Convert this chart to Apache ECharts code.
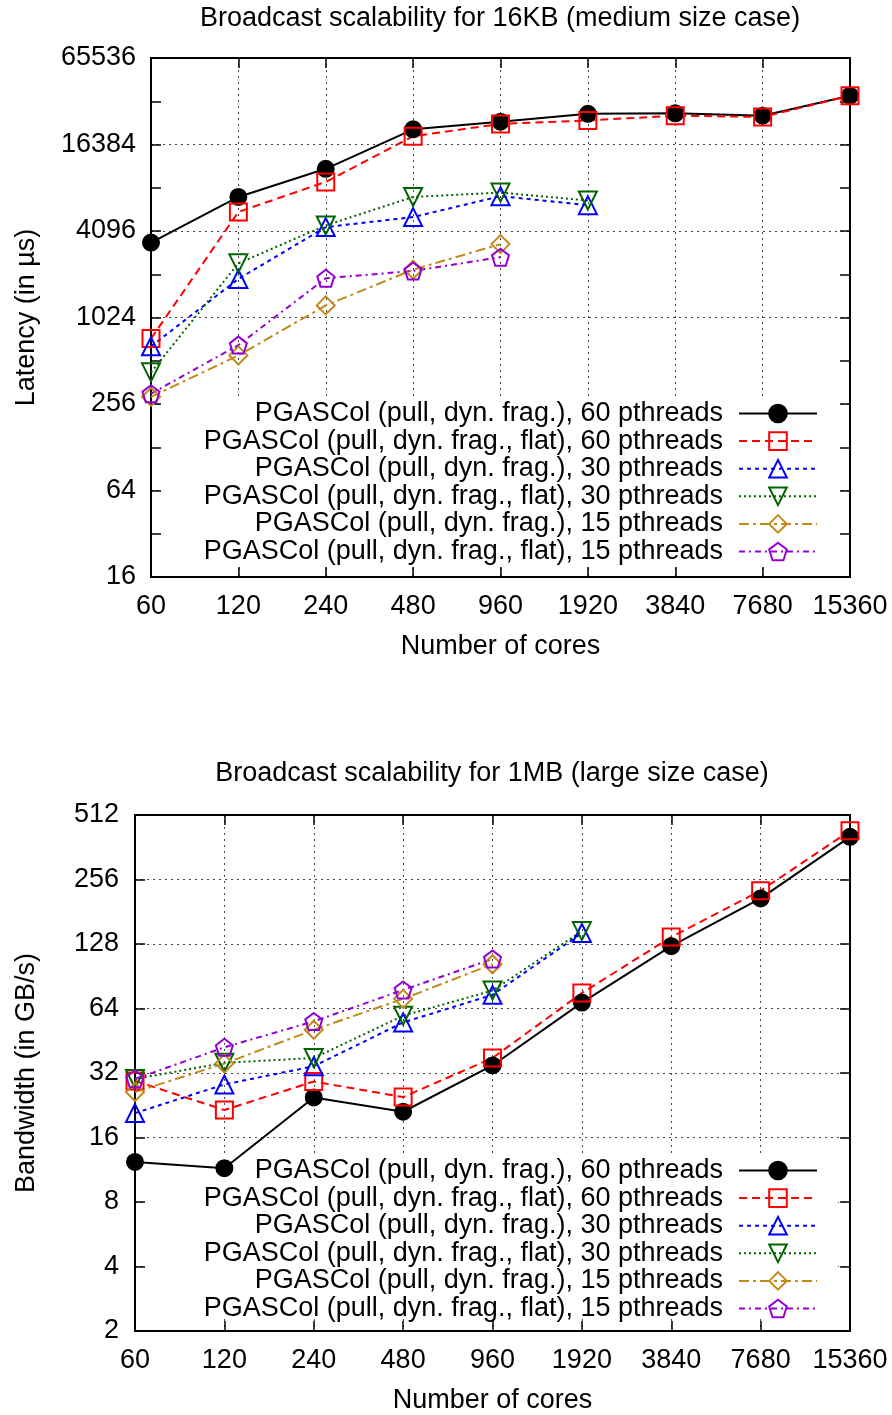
<!DOCTYPE html>
<html>
<head>
<meta charset="utf-8">
<title>Broadcast scalability</title>
<script src="https://cdn.jsdelivr.net/npm/echarts@6/dist/echarts.min.js"></script>
<style>
  html, body { margin: 0; padding: 0; background: #ffffff; }
  #chart { width: 892px; height: 1415px; }
</style>
</head>
<body>
<div id="chart"></div>
<script>
// Number of cores on the x axis (log2 spaced, one category per doubling)
const cores = ['60', '120', '240', '480', '960', '1920', '3840', '7680', '15360'];

const seriesNames = [
  'PGASCol (pull, dyn. frag.), 60 pthreads',
  'PGASCol (pull, dyn. frag., flat), 60 pthreads',
  'PGASCol (pull, dyn. frag.), 30 pthreads',
  'PGASCol (pull, dyn. frag., flat), 30 pthreads',
  'PGASCol (pull, dyn. frag.), 15 pthreads',
  'PGASCol (pull, dyn. frag., flat), 15 pthreads'
];

// 16KB broadcast latency (µs)
const lat60 = [3400, 7070, 11100, 20900, 23600, 26800, 27000, 26000, 35800];
const lat60Flat = [730, 5560, 9000, 18700, 22800, 24100, 26000, 25500, 35800];
const lat30 = [645, 1900, 4360, 5120, 7160, 6200];
const lat30Flat = [425, 2440, 4480, 7070, 7580, 6680];
const lat15 = [287, 558, 1243, 2205, 3320];
const lat15Flat = [302, 658, 1920, 2160, 2690];

// 1MB broadcast bandwidth (GB/s)
const bw60 = [12.3, 11.5, 24.6, 21.1, 34.7, 68.2, 125, 209, 405];
const bw60Flat = [29.4, 21.5, 29.2, 24.7, 37.6, 75.6, 138, 227, 432];
const bw30 = [20.8, 28.3, 34.4, 55.1, 74.1, 144];
const bw30Flat = [30.0, 35.7, 37.6, 59.2, 77.6, 147];
const bw15 = [26.1, 35.4, 50.9, 71.0, 103];
const bw15Flat = [30.0, 42.2, 55.7, 78.1, 109];

// Axis ranges and labels
const latencyTicks = [16, 64, 256, 1024, 4096, 16384, 65536];
const bandwidthTicks = [2, 4, 8, 16, 32, 64, 128, 256, 512];

const latencySets = [lat60, lat60Flat, lat30, lat30Flat, lat15, lat15Flat];
const bandwidthSets = [bw60, bw60Flat, bw30, bw30Flat, bw15, bw15Flat];

// Marker shapes
const DOWN_TRIANGLE = 'path://M0,0 L2,0 L1,1.732 Z';
const PENTAGON = 'path://M1,0 L1.951,0.691 L1.588,1.809 L0.412,1.809 L0.049,0.691 Z';

// Line / marker look of each series (same in both panels)
const looks = [
  { color: '#000000', dash: 'solid', symbol: 'circle', size: 16, filled: true },
  { color: '#ff0000', dash: [8, 5], symbol: 'rect', size: 17, filled: false },
  { color: '#0000ff', dash: [4, 4], symbol: 'triangle', size: 18, filled: false },
  { color: '#006400', dash: [2, 3], symbol: DOWN_TRIANGLE, size: 18, filled: false },
  { color: '#c08a1a', dash: [10, 4, 3, 4], symbol: 'diamond', size: 18, filled: false },
  { color: '#9400d3', dash: [6, 4, 2, 4], symbol: PENTAGON, size: 17, filled: false }
];

const FONT = '"Liberation Sans", Arial, Helvetica, sans-serif';
const FS = 27;
const txt = { fontFamily: FONT, fontSize: FS, color: '#000' };
const plainNumber = (v) => String(Math.round(v));

const frameLine = { show: true, onZero: false, lineStyle: { color: '#000', width: 2 } };
const gridDots = { show: true, lineStyle: { color: '#444', width: 1, type: [2, 4] } };
const innerTick = { show: true, inside: true, length: 10, lineStyle: { color: '#000', width: 1.5 } };

function categoryAxes(gridIndex) {
  return [
    {
      type: 'category', gridIndex, position: 'bottom', data: cores, boundaryGap: false,
      axisLine: frameLine, axisTick: Object.assign({ interval: 0 }, innerTick),
      axisLabel: Object.assign({ interval: 0, margin: 16 }, txt),
      splitLine: Object.assign({ interval: 0 }, gridDots),
      name: 'Number of cores', nameLocation: 'middle', nameGap: 56, nameTextStyle: txt
    },
    {
      type: 'category', gridIndex, position: 'top', data: cores, boundaryGap: false,
      axisLine: frameLine, axisTick: Object.assign({ interval: 0 }, innerTick),
      axisLabel: { show: false }, splitLine: { show: false }
    }
  ];
}

function logAxis(gridIndex, position, base, ticks, opts) {
  return Object.assign({
    type: 'log', logBase: base, gridIndex, position,
    min: ticks[0], max: ticks[ticks.length - 1], interval: 1,
    axisLine: frameLine, axisTick: innerTick,
    axisLabel: { show: false }, splitLine: { show: false }
  }, opts || {});
}

const xAxes = categoryAxes(0).concat(categoryAxes(1));
const yAxes = [
  // top panel: labelled major axis (powers of 4), tick-only axes (powers of 2)
  logAxis(0, 'left', 4, latencyTicks, {
    axisLabel: Object.assign({ margin: 15, formatter: plainNumber }, txt), splitLine: gridDots,
    name: 'Latency (in µs)', nameLocation: 'middle', nameRotate: 90, nameGap: 111, nameTextStyle: txt
  }),
  logAxis(0, 'left', 2, latencyTicks),
  logAxis(0, 'right', 2, latencyTicks),
  // bottom panel
  logAxis(1, 'left', 2, bandwidthTicks, {
    axisLabel: Object.assign({ margin: 16, formatter: plainNumber }, txt), splitLine: gridDots,
    name: 'Bandwidth (in GB/s)', nameLocation: 'middle', nameRotate: 90, nameGap: 95, nameTextStyle: txt
  }),
  logAxis(1, 'right', 2, bandwidthTicks)
];

function makeSeries(sets, xAxisIndex, yAxisIndex) {
  return sets.map((values, i) => {
    const lk = looks[i];
    return {
      type: 'line', name: seriesNames[i], xAxisIndex, yAxisIndex, data: values,
      symbol: lk.symbol, symbolSize: lk.size, showAllSymbol: true, z: 3,
      lineStyle: { color: lk.color, width: 2, type: lk.dash },
      itemStyle: { color: lk.filled ? lk.color : 'transparent', borderColor: lk.color, borderWidth: 2 },
      emphasis: { disabled: true }
    };
  });
}

function legendAt(top) {
  return {
    data: seriesNames, orient: 'vertical', align: 'right', right: 74, top,
    itemWidth: 78, itemHeight: 22, itemGap: 0.6, padding: 0, selectedMode: false,
    textStyle: Object.assign({ lineHeight: 27, padding: [0, 11, 0, 0] }, txt)
  };
}

const option = {
  animation: false,
  backgroundColor: '#ffffff',
  title: [
    { text: 'Broadcast scalability for 16KB (medium size case)', left: 500, top: 5, textAlign: 'center', padding: 0, textStyle: Object.assign({ fontWeight: 'normal' }, txt) },
    { text: 'Broadcast scalability for 1MB (large size case)', left: 492, top: 760, textAlign: 'center', padding: 0, textStyle: Object.assign({ fontWeight: 'normal' }, txt) }
  ],
  grid: [
    { left: 151, right: 42, top: 58, height: 519, containLabel: false },
    { left: 135, right: 42, top: 815, height: 516, containLabel: false }
  ],
  xAxis: xAxes,
  yAxis: yAxes,
  legend: [legendAt(400), legendAt(1157)],
  // opaque key boxes: keep the dotted grid out of the key area
  graphic: [
    { type: 'rect', z: 1, silent: true, shape: { x: 163, y: 398, width: 675, height: 168 }, style: { fill: '#ffffff' } },
    { type: 'rect', z: 1, silent: true, shape: { x: 147, y: 1156, width: 691, height: 163 }, style: { fill: '#ffffff' } }
  ],
  series: makeSeries(latencySets, 0, 0).concat(makeSeries(bandwidthSets, 2, 3))
};

const chart = echarts.init(document.getElementById('chart'), null, { renderer: 'canvas' });
chart.setOption(option);
</script>
</body>
</html>
